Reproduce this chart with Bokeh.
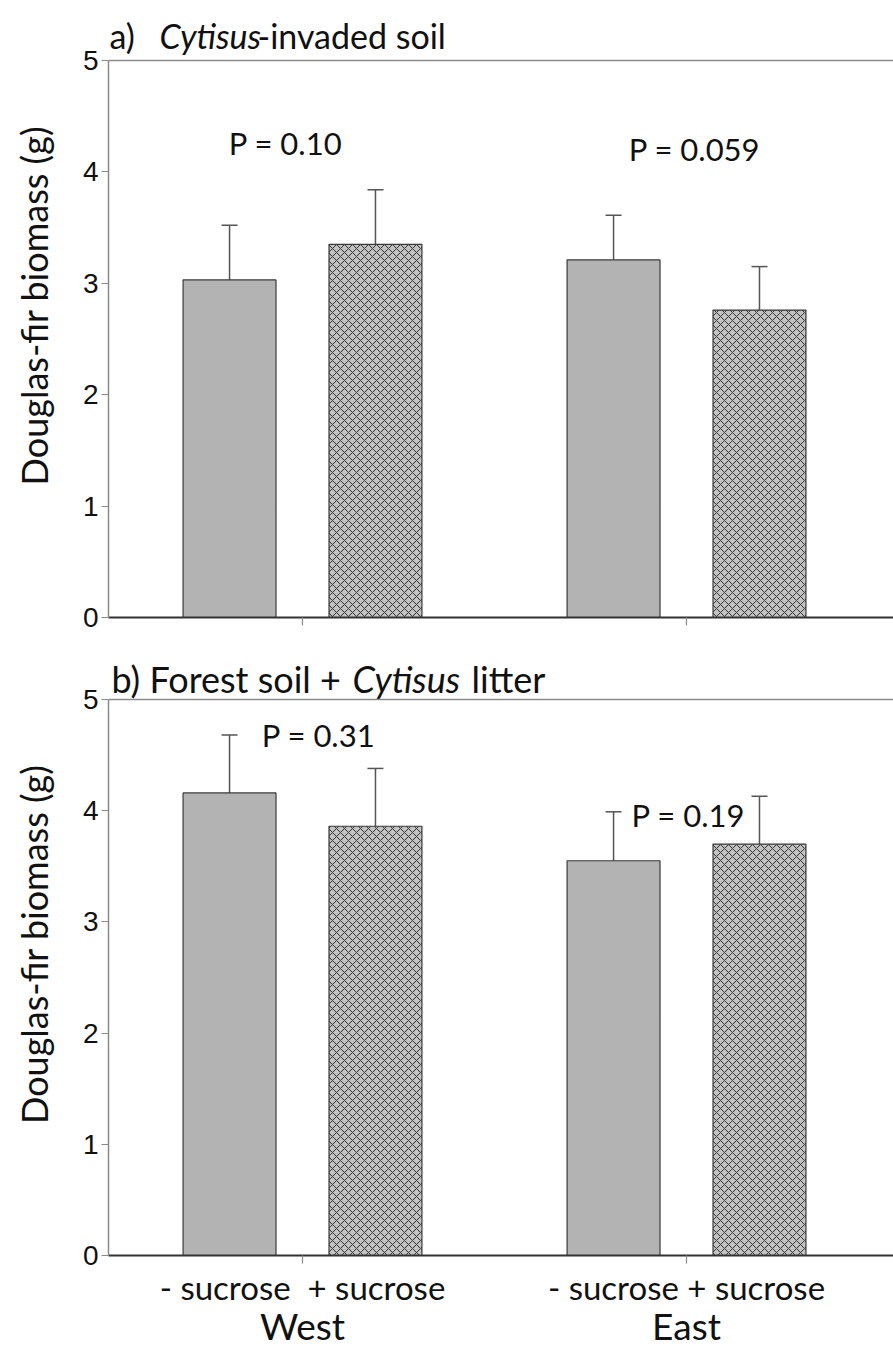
from math import pi
from bokeh.plotting import figure
from bokeh.layouts import column, row
from bokeh.models import (ColumnDataSource, Range1d, FixedTicker, Span,
                          Whisker, TeeHead, LinearAxis)
from bokeh.transform import dodge
from bokeh.core.properties import value
from bokeh.embed import file_html
from bokeh.resources import INLINE

# ---------------- data ----------------
sites = ["West", "East"]
site_pos = [1, 2]
treatments = ["- sucrose", "+ sucrose"]

a_minus = [3.03, 3.21]
a_minus_err = [0.49, 0.40]
a_plus = [3.35, 2.76]
a_plus_err = [0.49, 0.39]

b_minus = [4.16, 3.55]
b_minus_err = [0.52, 0.44]
b_plus = [3.86, 3.70]
b_plus_err = [0.52, 0.43]

p_text_a = ["P = 0.10", "P = 0.059"]
p_text_b = ["P = 0.31", "P = 0.19"]
x_labels = ["- sucrose\u00a0 + sucrose", "- sucrose + sucrose"]
y_ticks = [0, 1, 2, 3, 4, 5]
y_title = "Douglas-fir biomass (g)"

# ---------------- style ----------------
FONT = "Lato"
X0, X1 = 0.4948, 2.539
OFF = 0.19
BW = 0.242
GRAY_FILL = "#b3b3b3"
HATCH_FILL = "#c2c2c2"
EDGE = "#3a3a3a"
ERR = "#555555"
AX = "#8a8a8a"
TXT = "#111111"
LABEL_W = 60


def make_panel(minus, minus_err, plus, plus_err, p_text, p_xy, ytop, frame_h, bottom):
    p = figure(frame_width=785, frame_height=frame_h,
               x_range=Range1d(X0, X1), y_range=Range1d(0, ytop),
               output_backend="svg", toolbar_location=None,
               min_border_left=108 - LABEL_W, min_border_right=0,
               min_border_top=0, min_border_bottom=bottom,
               outline_line_color=None, background_fill_color="white",
               border_fill_color="white")
    p.xgrid.visible = False
    p.ygrid.visible = False

    src = ColumnDataSource(dict(
        x=site_pos, minus=minus, plus=plus,
        minus_up=[v + e for v, e in zip(minus, minus_err)],
        plus_up=[v + e for v, e in zip(plus, plus_err)],
    ))
    p.vbar(x=dodge("x", -OFF, range=p.x_range), top="minus", width=BW, source=src,
           fill_color=GRAY_FILL, line_color=EDGE, line_width=1.2)
    p.vbar(x=dodge("x", OFF, range=p.x_range), top="plus", width=BW, source=src,
           fill_color=HATCH_FILL, line_color=EDGE, line_width=1.2,
           hatch_pattern="diagonal_cross", hatch_color="#333333",
           hatch_weight=1.0, hatch_scale=8)

    for col, up, off in (("minus", "minus_up", -OFF), ("plus", "plus_up", OFF)):
        w = Whisker(source=src, base=dodge("x", off, range=p.x_range), lower=col, upper=up,
                    dimension="height", line_color=ERR, line_width=1.5,
                    lower_head=None,
                    upper_head=TeeHead(size=16, line_color=ERR, line_width=1.5))
        p.add_layout(w)

    psrc = ColumnDataSource(dict(x=[q[0] for q in p_xy], y=[q[1] for q in p_xy], t=p_text))
    p.text(x="x", y="y", text="t", source=psrc, text_align="center",
           text_baseline="alphabetic", text_font=value(FONT),
           text_font_size="31px", text_color=TXT)

    p.add_layout(Span(location=5, dimension="width", line_color=AX, line_width=1.5))

    ya = p.yaxis[0]
    ya.bounds = (0, 5)
    ya.ticker = FixedTicker(ticks=y_ticks)
    ya.axis_line_color = AX
    ya.axis_line_width = 1.5
    ya.major_tick_line_color = AX
    ya.major_tick_line_width = 1.2
    ya.major_tick_out = 7
    ya.major_tick_in = 0
    ya.minor_tick_line_color = None
    ya.major_label_text_font = "Liberation Sans"
    ya.major_label_text_font_size = "28px"
    ya.major_label_text_color = TXT
    ya.major_label_standoff = 3

    xa = p.xaxis[0]
    xa.ticker = FixedTicker(ticks=site_pos)
    xa.axis_line_color = "#333333"
    xa.axis_line_width = 2
    xa.major_tick_line_color = AX
    xa.major_tick_line_width = 1.2
    xa.major_tick_out = 8
    xa.major_tick_in = 0
    xa.minor_tick_line_color = None
    return p


def make_ylabel(p, frame_h, bottom, y_center):
    lf = figure(width=LABEL_W, frame_height=frame_h,
                x_range=Range1d(0, LABEL_W), y_range=p.y_range,
                output_backend="svg", toolbar_location=None,
                x_axis_type=None, y_axis_type=None,
                min_border_left=0, min_border_right=0, min_border_top=0,
                min_border_bottom=bottom, outline_line_color=None,
                background_fill_color="white", border_fill_color="white")
    lf.xgrid.visible = False
    lf.ygrid.visible = False
    lf.text(x=[33], y=[y_center], text=[y_title], angle=pi / 2, text_align="center",
            text_baseline="middle", text_font=value(FONT), text_font_size="36px",
            text_color=TXT)
    return lf


def add_title(p, pieces, y, size):
    for txt, px, style in pieces:
        p.text(x=[X0], y=[y], text=[txt], x_offset=px - 108, text_align="left",
               text_baseline="alphabetic", text_font=value(FONT),
               text_font_style=style, text_font_size=size, text_color=TXT)


pa = make_panel(a_minus, a_minus_err, a_plus, a_plus_err, p_text_a,
                [(0.956, 4.255), (2.021, 4.21)], ytop=5.5386, frame_h=617, bottom=15)
pa.xaxis[0].major_label_overrides = {1: "", 2: "", "1": "", "2": ""}
pa.xaxis[0].major_label_text_font_size = "1px"
pa.xaxis[0].major_label_standoff = 0
add_title(pa, [("a)", 109, "normal"), ("Cytisus", 159, "italic"),
               ("-invaded soil", 257, "normal")], 5.2244, "34px")
la = make_ylabel(pa, 617, 15, 2.8)

pb = make_panel(b_minus, b_minus_err, b_plus, b_plus_err, p_text_b,
                [(1.042, 4.685), (2.005, 3.96)], ytop=5.6025, frame_h=623, bottom=91)
xb = pb.xaxis[0]
xb.major_label_overrides = {1: x_labels[0], 2: x_labels[1],
                            "1": x_labels[0], "2": x_labels[1]}
xb.major_label_text_font = FONT
xb.major_label_text_font_size = "33px"
xb.major_label_text_color = TXT
xb.major_label_standoff = 3
site_axis = LinearAxis(ticker=FixedTicker(ticks=site_pos),
                       major_label_overrides={1: sites[0], 2: sites[1],
                                              "1": sites[0], "2": sites[1]},
                       axis_line_color=None, major_tick_line_color=None,
                       minor_tick_line_color=None, major_label_standoff=-13,
                       major_label_text_font=FONT, major_label_text_font_size="37px",
                       major_label_text_color=TXT)
pb.add_layout(site_axis, "below")
add_title(pb, [("b) Forest soil +", 111, "normal"), ("Cytisus", 352, "italic"),
               ("litter", 471, "normal")], 5.18, "36px")
lb = make_ylabel(pb, 623, 91, 2.8)

layout = column(row(la, pa, spacing=0), row(lb, pb, spacing=0), spacing=0)
open("out.html", "w").write(file_html(layout, INLINE))
